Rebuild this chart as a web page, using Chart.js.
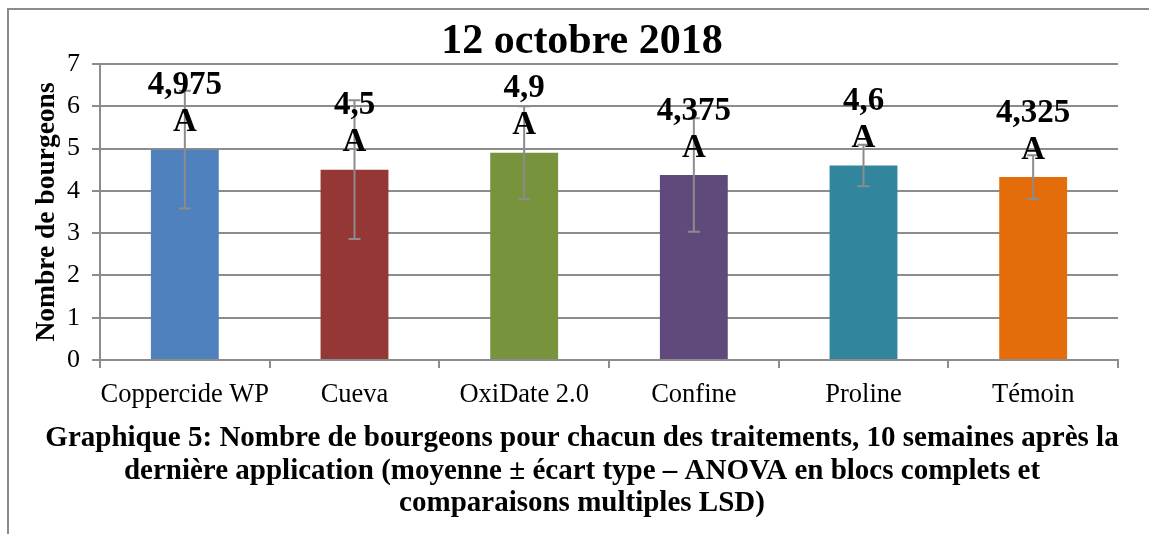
<html>
<head>
<script src="https://cdn.jsdelivr.net/npm/chart.js"></script>
<style>
  body { margin: 0; background: #fff; }
  #wrap { width: 1149px; height: 534px; }
</style>
</head>
<body>
<div id="wrap"><canvas id="myChart"></canvas></div>
<script>
const categories = ['Coppercide WP', 'Cueva', 'OxiDate 2.0', 'Confine', 'Proline', 'Témoin'];
const means = [4.975, 4.5, 4.9, 4.375, 4.6, 4.325];
const stdDevs = [1.39, 1.64, 1.1, 1.34, 0.49, 0.52];
const letters = ['A', 'A', 'A', 'A', 'A', 'A'];
const barColors = ['#4f81bd', '#953735', '#77933c', '#604a7b', '#31859c', '#e46c0a'];
const chartTitle = '12 octobre 2018';
const yTitle = 'Nombre de bourgeons';
const caption = [
  'Graphique 5: Nombre de bourgeons pour chacun des traitements, 10 semaines après la',
  'dernière application (moyenne ± écart type – ANOVA en blocs complets et',
  'comparaisons multiples LSD)'
];

const serif = "'Liberation Serif', 'Times New Roman', serif";
const gray = '#8c8c8c';

// border, error bars, labels, title, caption
const decor = {
  id: 'decor',
  beforeDraw(chart) {
    const ctx = chart.ctx;
    ctx.save();
    ctx.fillStyle = '#fff';
    ctx.fillRect(0, 0, chart.width, chart.height);
    ctx.strokeStyle = gray;
    ctx.lineWidth = 2;
    ctx.beginPath();
    ctx.moveTo(8, chart.height);
    ctx.lineTo(8, 9);
    ctx.lineTo(chart.width, 9);
    ctx.stroke();
    ctx.restore();
  },
  afterDatasetsDraw(chart) {
    const ctx = chart.ctx;
    const y = chart.scales.y;
    const bars = chart.getDatasetMeta(0).data;
    ctx.save();
    ctx.strokeStyle = gray;
    ctx.lineWidth = 2;
    bars.forEach((b, i) => {
      const hi = y.getPixelForValue(means[i] + stdDevs[i]);
      const lo = y.getPixelForValue(means[i] - stdDevs[i]);
      ctx.beginPath();
      ctx.moveTo(b.x, hi); ctx.lineTo(b.x, lo);
      ctx.moveTo(b.x - 6, hi); ctx.lineTo(b.x + 6, hi);
      ctx.moveTo(b.x - 6, lo); ctx.lineTo(b.x + 6, lo);
      ctx.stroke();
    });
    ctx.fillStyle = '#000';
    ctx.textAlign = 'center';
    ctx.textBaseline = 'middle';
    ctx.font = 'bold 33px ' + serif;
    bars.forEach((b, i) => {
      ctx.fillText(String(means[i]).replace('.', ','), b.x, b.y - 64);
      ctx.fillText(letters[i], b.x, b.y - 27);
    });
    ctx.restore();
  },
  afterDraw(chart) {
    const ctx = chart.ctx;
    ctx.save();
    ctx.fillStyle = '#000';
    ctx.textAlign = 'center';
    ctx.textBaseline = 'middle';
    ctx.font = 'bold 42px ' + serif;
    ctx.fillText(chartTitle, 582, 42);
    ctx.font = 'bold 29px ' + serif;
    caption.forEach((line, i) => ctx.fillText(line, 582, 439 + i * 32.5));
    ctx.restore();
  }
};

new Chart(document.getElementById('myChart'), {
  type: 'bar',
  data: {
    labels: categories,
    datasets: [{
      data: means,
      backgroundColor: barColors,
      borderWidth: 0,
      categoryPercentage: 1,
      barPercentage: 0.4
    }]
  },
  options: {
    animation: false,
    responsive: true,
    maintainAspectRatio: false,
    layout: { padding: { top: 64, left: 30, right: 31, bottom: 114 } },
    scales: {
      x: {
        afterFit(s) { s.height = 60; },
        grid: { display: true, drawOnChartArea: false, drawTicks: true, tickLength: 8, color: gray, lineWidth: 2 },
        border: { color: gray, width: 2 },
        ticks: { color: '#000', font: { family: serif, size: 26.5 }, padding: 11, maxRotation: 0, autoSkip: false }
      },
      y: {
        min: 0,
        max: 7,
        afterFit(s) { s.width = 70; },
        grid: { color: gray, lineWidth: 2, tickLength: 8 },
        border: { color: gray, width: 2 },
        ticks: { stepSize: 1, color: '#000', font: { family: serif, size: 26 }, padding: 12 },
        title: { display: true, text: yTitle, color: '#000', font: { family: serif, size: 27.5, weight: 'bold' }, padding: { top: 0, bottom: 0 } }
      }
    },
    plugins: {
      legend: { display: false },
      tooltip: { enabled: false }
    }
  },
  plugins: [decor]
});
</script>
</body>
</html>
